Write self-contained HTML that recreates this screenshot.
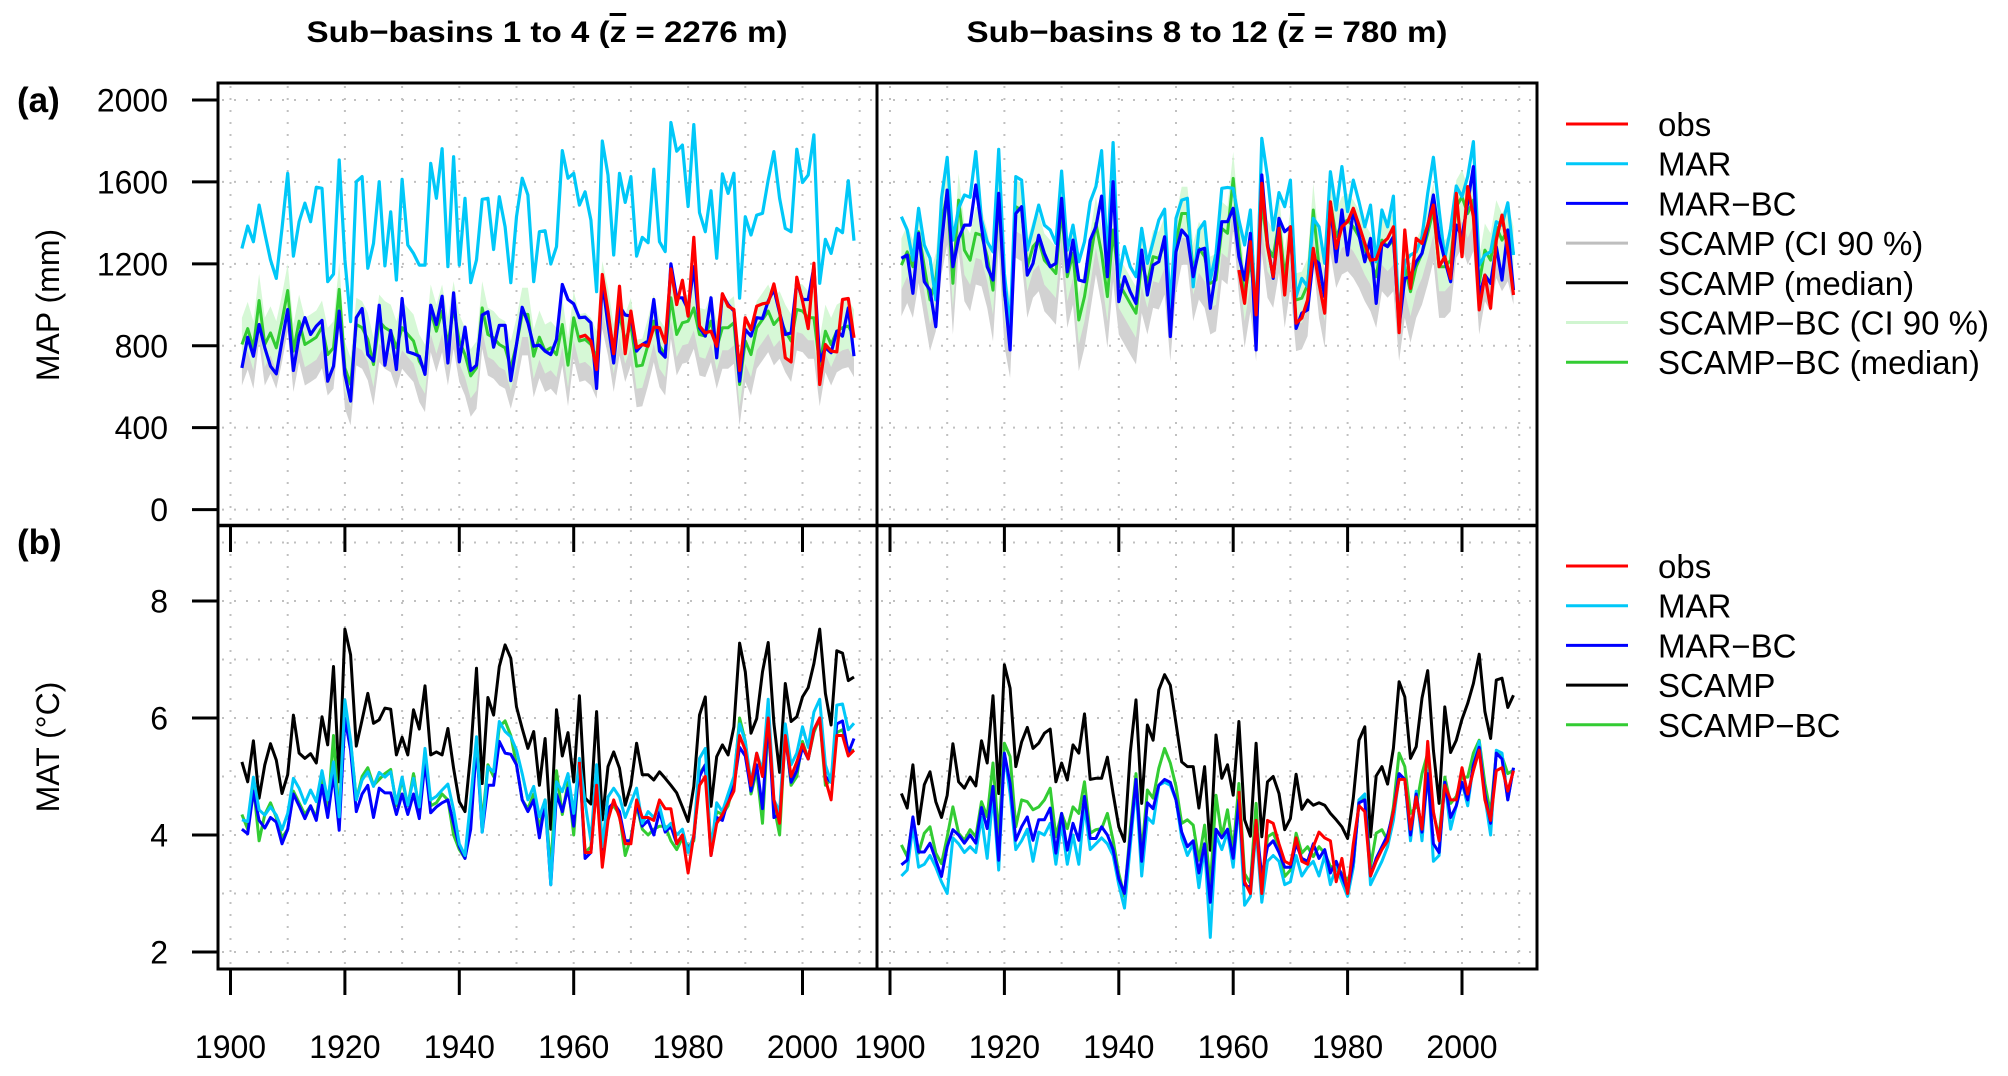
<!DOCTYPE html>
<html>
<head>
<meta charset="utf-8">
<style>
  html, body { margin: 0; padding: 0; background: #ffffff; }
  svg { display: block; font-family: "Liberation Sans", Arial, sans-serif; }
</style>
</head>
<body>
<svg id="chart" width="2008" height="1076" viewBox="0 0 2008 1076" xmlns="http://www.w3.org/2000/svg">
  <defs>
    <clipPath id="clipTL"><rect x="218" y="83" width="659" height="442"/></clipPath>
    <clipPath id="clipTR"><rect x="877" y="83" width="660" height="442"/></clipPath>
    <clipPath id="clipBL"><rect x="218" y="525" width="659" height="444"/></clipPath>
    <clipPath id="clipBR"><rect x="877" y="525" width="660" height="444"/></clipPath>
  </defs>
  <g id="grid"></g>
  <g id="series"></g>
  <g id="frame"></g>
  <g id="axes"></g>

  <text x="547" y="42" text-anchor="middle" font-size="30" font-weight="bold" textLength="481" lengthAdjust="spacingAndGlyphs">Sub−basins 1 to 4 (<tspan style="text-decoration:overline">z</tspan> = 2276 m)</text>
  <text x="1207" y="42" text-anchor="middle" font-size="30" font-weight="bold" textLength="481" lengthAdjust="spacingAndGlyphs">Sub−basins 8 to 12 (<tspan style="text-decoration:overline">z</tspan> = 780 m)</text>
  <text x="17" y="112" font-size="35" font-weight="bold">(a)</text>
  <text x="17" y="554" font-size="35" font-weight="bold">(b)</text>
  <text transform="translate(59,305) rotate(-90)" text-anchor="middle" font-size="32">MAP (mm)</text>
  <text transform="translate(59,747) rotate(-90)" text-anchor="middle" font-size="32">MAT (°C)</text>
  <g id="legends"></g>
</svg>
<script>
const years = [];
for (let y = 1902; y <= 2009; y++) years.push(y);
const obsStartYear = 1961;

const topLeftMAR = [1275,1385,1308,1487,1349,1219,1129,1373,1642,1238,
1406,1496,1406,1574,1569,1113,1150,1707,1219,918,
1601,1626,1178,1300,1601,1190,1454,1121,1613,1292,
1251,1194,1194,1691,1520,1762,1186,1723,1194,1520,
1108,1219,1515,1520,1270,1528,1381,1108,1430,1618,
1536,1113,1357,1362,1199,1284,1753,1618,1642,1487,
1552,1414,1064,1800,1634,1243,1642,1500,1626,1238,
1329,1303,1662,1308,1260,1890,1750,1780,1480,1880,
1450,1357,1557,1227,1639,1544,1642,1032,1430,1341,
1438,1447,1610,1748,1520,1373,1357,1760,1597,1634,
1830,1105,1320,1251,1373,1352,1606,1313];
const topLeftMARBC = [692,842,749,904,790,700,663,823,977,679,
847,937,855,896,924,627,700,969,660,530,
937,982,757,725,998,705,875,684,1031,770,
761,749,660,998,904,1042,716,1058,721,891,
679,705,950,966,793,900,900,630,806,988,
912,798,803,774,757,831,1099,1026,1005,937,
940,912,592,1115,904,716,993,950,945,774,
806,823,1026,774,744,1200,1034,1034,977,1186,
888,847,1034,741,1050,1001,969,627,879,847,
937,933,1018,1075,961,855,863,1115,1026,1026,
1186,725,790,766,871,847,985,749];
const topLeftObs = [842,851,823,684,1148,969,761,1091,761,969,
790,806,798,891,888,814,1175,1001,1120,945,
1329,896,863,871,798,1054,993,977,679,937,
879,993,1005,1010,1102,969,741,721,1135,1018,
884,1203,611,806,774,770,1026,1031,839];
const topLeftBC = [806,884,790,1021,806,863,790,920,1070,774,
920,806,823,842,891,757,790,1075,692,611,
904,888,831,708,920,888,871,790,888,855,
823,725,676,969,871,969,806,985,823,757,
653,692,985,855,839,806,790,692,806,953,
953,749,842,774,790,757,904,705,937,823,
831,806,741,1083,953,774,953,823,904,700,
705,806,920,798,757,1034,855,912,920,985,
855,847,920,790,888,888,912,611,823,757,
888,928,969,904,937,871,823,977,969,937,
937,705,871,806,871,888,896,847];

const topRightMAR = [1430,1365,1218,1471,1292,1227,1024,1520,1720,1316,
1471,1536,1525,1748,1414,1308,1259,1759,1153,877,
1626,1609,1267,1373,1487,1389,1365,1300,1653,1267,
1389,1210,1308,1503,1577,1753,1227,1792,1129,1284,
1186,1137,1373,1202,1308,1414,1467,991,1422,1511,
1520,1088,1365,1406,1121,1251,1569,1573,1569,1414,
1292,1463,910,1813,1626,1365,1548,1479,1609,1040,
1129,1088,1422,1381,1202,1650,1463,1675,1455,1609,
1503,1381,1487,1210,1463,1381,1531,910,1210,1243,
1259,1332,1544,1720,1463,1227,1373,1580,1528,1626,
1797,1194,1243,1259,1406,1389,1498,1243];
const topRightMARBC = [1227,1243,1056,1349,1113,1072,893,1300,1560,1186,
1324,1389,1389,1585,1381,1186,1121,1544,1072,780,
1446,1479,1145,1202,1340,1251,1186,1202,1520,1161,
1316,1121,1113,1316,1381,1531,1137,1601,1015,1137,
1064,1007,1267,1048,1194,1210,1332,845,1259,1365,
1332,1137,1267,1276,983,1170,1406,1406,1471,1235,
1121,1349,780,1634,1300,1129,1422,1357,1381,885,
959,975,1227,1202,1040,1487,1210,1463,1243,1463,
1340,1210,1324,1007,1300,1284,1332,893,1129,1137,
1210,1251,1381,1536,1332,1218,1113,1389,1332,1498,
1675,1040,1145,1105,1284,1121,1365,1072];
const topRightObs = [1170,1007,1308,951,1593,1284,1137,1373,1048,1381,
910,935,1024,1276,1105,959,1503,1276,1381,1406,
1471,1389,1300,1218,1222,1300,1324,1381,864,1365,
1080,1324,1300,1389,1487,1186,1235,1129,1544,1235,
1577,1430,975,1145,983,1316,1438,1267,1048];
const topRightBC = [1194,1259,1186,1357,1186,1024,1121,1398,1544,1105,
1511,1267,1218,1349,1340,1235,1072,1528,1048,893,
1479,1463,1186,1284,1316,1218,1186,1153,1463,1137,
1251,926,1040,1218,1398,1251,1040,1365,1105,1056,
1007,959,1210,1105,1235,1227,1300,975,1308,1446,
1446,1170,1276,1235,1105,1121,1373,1349,1617,1300,
1040,1218,975,1503,1284,1235,1406,1137,1332,1024,
1032,1097,1463,1186,1040,1503,1332,1398,1414,1381,
1332,1267,1218,1137,1316,1284,1316,975,1186,1064,
1186,1251,1349,1463,1186,1186,1218,1479,1528,1446,
1511,1105,1267,1218,1381,1316,1365,1251];

// CI band edges, as offsets from the SCAMP-BC median (mm); positive = above
const leftBCBandUp = 130, leftBCBandDown = 110, leftScampTop = -80, leftScampBottom = 200;
const rightBCBandUp = 130, rightBCBandDown = 120, rightScampTop = -100, rightScampBottom = 250;

const botLeftSCAMP = [5.25,4.91,5.61,4.63,5.20,5.56,5.28,4.71,5.03,6.05,
5.40,5.31,5.39,5.23,6.02,5.54,6.88,4.91,7.52,7.08,
5.52,5.97,6.42,5.91,5.97,6.17,6.15,5.37,5.67,5.37,
6.14,5.81,6.55,5.37,5.42,5.37,5.82,5.14,4.57,4.40,
5.40,6.85,4.88,6.35,6.05,6.88,7.25,7.02,6.19,5.82,
5.48,5.77,4.85,5.65,4.10,6.14,5.35,5.75,4.91,6.38,
4.63,4.53,6.11,4.26,5.17,5.42,5.14,4.51,4.85,5.57,
5.03,5.03,4.94,5.08,4.97,4.85,4.72,4.48,4.23,4.83,
6.05,6.36,4.49,5.34,5.54,5.37,5.85,7.28,6.79,5.74,
5.99,6.79,7.29,5.91,5.07,6.59,5.94,6.02,6.36,6.52,
6.93,7.52,6.42,5.88,7.15,7.11,6.64,6.70];
const botLeftMAR = [4.26,4.23,4.99,4.43,4.34,4.48,4.34,4.09,4.37,4.97,
4.80,4.54,4.77,4.57,5.10,4.60,5.25,4.31,6.31,5.62,
4.60,4.94,5.08,4.83,5.07,4.99,5.08,4.54,4.99,4.51,
4.97,4.48,5.48,4.60,4.66,4.77,4.87,4.43,3.85,3.65,
4.60,5.68,4.05,5.17,5.08,5.94,5.77,5.68,5.45,5.05,
4.60,4.83,4.31,4.60,3.15,4.91,4.74,5.05,4.37,5.31,
4.55,3.90,5.20,3.80,4.65,4.80,4.65,4.30,4.55,4.80,
4.20,4.40,4.30,4.50,4.10,4.20,4.00,4.10,3.70,4.00,
5.31,5.48,3.70,4.55,4.40,4.70,5.00,5.90,5.60,4.90,
5.40,5.10,6.32,4.60,4.40,5.90,5.20,5.40,5.85,5.50,
6.10,6.32,5.20,4.90,6.22,6.24,5.80,5.91];
const botLeftMARBC = [4.10,4.02,4.75,4.25,4.12,4.30,4.22,3.85,4.10,4.70,
4.50,4.28,4.50,4.25,4.85,4.30,5.05,4.08,6.00,5.45,
4.40,4.70,4.85,4.30,4.80,4.72,4.72,4.35,4.70,4.35,
4.70,4.28,5.25,4.38,4.48,4.55,4.60,4.20,3.80,3.60,
4.10,5.55,4.05,4.85,4.85,5.60,5.40,5.38,5.20,4.60,
4.40,4.60,3.95,4.55,3.15,4.70,4.40,4.80,4.15,5.25,
3.60,3.70,4.90,3.75,4.45,4.55,4.40,3.90,3.90,4.55,
4.15,4.25,4.00,4.40,4.05,4.15,3.85,4.00,3.75,3.95,
5.00,5.20,3.65,4.30,4.25,4.60,4.85,5.50,5.35,4.75,
5.20,4.45,6.00,4.30,4.35,5.70,4.90,5.10,5.50,5.30,
5.80,6.00,5.00,4.90,5.90,5.95,5.40,5.65];
const botLeftBC = [4.35,4.1,4.85,3.9,4.35,4.55,4.3,3.95,4.1,4.75,
4.55,4.35,4.5,4.3,4.95,4.35,5.7,4.3,6.0,5.6,
4.6,5.0,5.15,4.85,4.95,5.05,5.12,4.5,4.95,4.5,
5.05,4.4,5.4,4.5,4.55,4.7,4.6,4.0,3.75,3.6,
4.2,5.6,4.2,5.2,5.0,5.85,5.95,5.7,5.2,4.6,
4.45,4.7,4.1,4.6,3.4,5.1,4.35,4.9,4.0,5.25,
3.7,3.8,5.0,3.9,4.4,4.5,4.35,3.65,3.95,4.5,
4.1,4.0,4.1,4.15,4.15,3.9,3.75,3.95,3.8,3.9,
5.05,5.2,3.8,4.4,4.35,4.5,4.9,6.0,5.6,4.7,
5.1,4.2,5.9,4.5,4.0,5.75,4.85,5.0,5.6,5.3,
5.75,6.0,4.85,4.95,5.75,5.8,5.45,5.45];
const botLeftObs = [5.25,3.7,3.7,4.85,3.45,4.25,4.6,4.3,3.85,3.85,
4.6,4.3,4.3,4.25,4.6,4.45,4.45,3.85,4.0,3.35,
4.0,4.85,5.0,3.65,4.2,4.35,4.55,4.75,5.7,5.45,
4.85,5.4,5.0,6.0,4.6,4.2,5.7,5.0,5.25,5.55,
5.3,5.8,6.0,4.95,4.6,5.7,5.7,5.35,5.45];

const botRightSCAMP = [4.71,4.46,5.20,4.19,4.86,5.08,4.57,4.30,4.68,5.56,
4.91,4.80,4.99,4.84,5.61,5.23,6.38,4.71,6.91,6.51,
5.17,5.59,5.84,5.48,5.57,5.74,5.81,4.91,5.23,4.94,
5.54,5.40,6.07,4.95,4.97,4.97,5.33,4.71,4.14,3.89,
5.40,6.31,4.54,5.88,5.62,6.48,6.74,6.56,5.91,5.25,
5.17,5.17,4.46,5.17,3.74,5.71,4.97,5.20,4.68,5.94,
4.26,3.98,5.57,3.97,4.91,5.00,4.71,4.09,4.28,5.04,
4.44,4.60,4.51,4.55,4.51,4.37,4.26,4.14,3.94,4.63,
5.62,5.85,3.97,5.01,5.17,4.87,5.48,6.62,6.36,5.31,
5.51,6.34,6.81,5.45,4.54,6.19,5.41,5.62,5.98,6.25,
6.59,7.09,6.11,5.65,6.65,6.68,6.18,6.39];
const botRightMAR = [3.3,3.4,4.15,3.45,3.5,3.65,3.45,3.2,3.0,3.95,
3.85,3.7,3.8,3.7,4.3,3.6,4.7,3.4,5.4,4.7,
3.75,3.9,4.1,3.55,4.05,4.0,4.2,3.5,4.2,3.5,
4.0,3.5,4.5,3.75,3.85,3.95,3.85,3.65,3.15,2.75,
3.8,4.85,3.3,4.3,4.2,4.85,4.9,4.85,4.6,3.95,
3.65,3.85,3.1,3.8,2.25,4.0,3.75,4.05,3.45,4.55,
2.8,2.95,4.1,2.85,3.55,3.65,3.55,3.15,3.2,3.65,
3.3,3.45,3.55,3.3,3.65,3.15,3.45,3.2,2.95,3.45,
4.6,4.7,3.15,3.35,3.55,3.8,4.25,5.0,4.95,3.9,
4.75,3.9,5.1,3.55,3.65,4.9,4.1,4.5,4.9,4.5,
5.2,5.6,4.65,4.0,5.45,5.4,4.6,5.15];
const botRightMARBC = [3.49,3.57,4.31,3.71,3.71,3.86,3.57,3.29,3.80,4.09,
4.00,3.86,4.00,3.86,4.47,4.11,4.83,3.57,5.40,4.88,
3.91,4.14,4.31,3.91,4.26,4.26,4.46,3.69,4.37,3.74,
4.20,3.91,4.66,3.94,3.94,4.14,4.00,3.75,3.25,3.00,
3.95,4.95,3.55,4.55,4.45,4.85,4.95,4.90,4.60,4.05,
3.80,3.90,3.35,3.85,2.85,4.10,3.95,4.10,3.60,4.60,
3.15,3.10,4.20,3.30,3.80,3.90,3.70,3.45,3.45,3.85,
3.60,3.55,3.85,3.60,3.75,3.35,3.55,3.30,3.05,3.55,
4.55,4.60,3.30,3.60,3.80,4.00,4.40,5.05,4.95,4.00,
4.70,4.05,5.05,3.85,3.70,4.90,4.30,4.50,4.90,4.60,
5.20,5.50,4.70,4.20,5.40,5.30,4.60,5.15];
const botRightBC = [3.83,3.63,4.26,3.69,4.03,4.14,3.69,3.51,3.97,4.48,
4.03,3.91,4.09,3.97,4.57,4.31,5.23,3.97,5.57,5.34,
4.14,4.60,4.57,4.43,4.48,4.60,4.80,3.97,4.37,4.11,
4.48,4.37,4.91,4.03,4.09,4.11,4.37,3.91,3.34,2.95,
4.09,5.05,3.69,4.77,4.63,5.14,5.48,5.23,4.83,4.20,
4.26,4.17,3.57,4.17,3.12,4.68,3.97,4.43,3.74,4.88,
3.34,3.17,4.54,2.95,3.97,4.03,3.80,3.29,3.40,4.03,
3.69,3.80,3.63,3.80,3.69,3.46,3.46,3.34,3.23,3.46,
4.60,4.66,3.46,4.03,4.09,3.91,4.48,5.40,5.17,4.37,
4.48,5.05,5.40,4.37,3.97,4.99,4.54,4.66,4.99,4.99,
5.40,5.62,4.88,4.37,5.40,5.34,5.05,5.11];
const botRightObs = [4.75,3.2,3.0,4.25,3.0,4.25,4.2,3.85,3.55,3.5,
3.95,3.55,3.5,3.8,4.05,3.95,3.9,3.2,3.6,3.0,
3.85,4.5,4.4,3.3,3.55,3.75,3.9,4.4,4.95,4.95,
4.1,4.65,4.1,5.6,4.4,3.9,4.85,4.6,4.6,5.15,
4.7,5.1,5.45,4.6,4.25,5.1,5.15,4.75,5.1];

const xTickYears = [1900,1920,1940,1960,1980,2000];
const mapTicks = [0,400,800,1200,1600,2000];
const matTicks = [2,4,6,8];
const legendTop = ["obs","MAR","MAR−BC","SCAMP (CI 90 %)","SCAMP (median)","SCAMP−BC (CI 90 %)","SCAMP−BC (median)"];
const legendBottom = ["obs","MAR","MAR−BC","SCAMP","SCAMP−BC"];

const C = { obs:"#ff0000", mar:"#00c8f8", marbc:"#0000ff", scampci:"#d2d2d2", scamp:"#000000", bcci:"#d6f8d6", bc:"#33cc33" };
const legendTopColors = [C.obs, C.mar, C.marbc, "#bebebe", C.scamp, "#d0f5d0", C.bc];
const legendBottomColors = [C.obs, C.mar, C.marbc, C.scamp, C.bc];

const NS = "http://www.w3.org/2000/svg";
function mk(tag, attrs, parent) {
  const e = document.createElementNS(NS, tag);
  for (const k in attrs) e.setAttribute(k, attrs[k]);
  parent.appendChild(e);
  return e;
}
const panelX0 = { L: 230.5, R: 890 };
function xScale(side, yr) { return panelX0[side] + (yr - 1900) * 5.72; }
function yTop(v) { return 509.6 - v * 0.2048; }
function yBot(t) { return 601 + (8 - t) * 58.5; }

const gGrid = document.getElementById("grid");
const gSeries = document.getElementById("series");
const gFrame = document.getElementById("frame");
const gAxes = document.getElementById("axes");
const gLeg = document.getElementById("legends");

["L","R"].forEach(side => {
  for (let yr = 1900; yr <= 2010; yr += 10) {
    const x = xScale(side, yr);
    const l = mk("line", {x1:x, y1:86, x2:x, y2:966, stroke:"#c0c0c0", "stroke-width":2, "stroke-dasharray":"2 10"}, gGrid);
    
    
  }
  const x0 = side === "L" ? 218 : 877, x1 = side === "L" ? 877 : 1537;
  mapTicks.forEach(v => {
    const l = mk("line", {x1:x0+4, y1:yTop(v), x2:x1-4, y2:yTop(v), stroke:"#c0c0c0", "stroke-width":2, "stroke-dasharray":"2 10"}, gGrid);
    
    
  });
  for (let t = 2; t <= 9; t++) {
    const l = mk("line", {x1:x0+4, y1:yBot(t), x2:x1-4, y2:yBot(t), stroke:"#c0c0c0", "stroke-width":2, "stroke-dasharray":"2 10"}, gGrid);
    
    
  }
});

function linePath(side, yfn, vals, startYear) {
  let d = "";
  vals.forEach((v, i) => {
    d += (i ? "L" : "M") + xScale(side, startYear + i).toFixed(1) + "," + yfn(v).toFixed(1);
  });
  return d;
}
function bandPath(side, yfn, med, up, down) {
  let d = "";
  med.forEach((v, i) => { d += (i ? "L" : "M") + xScale(side, years[i]).toFixed(1) + "," + yfn(v + up).toFixed(1); });
  for (let i = med.length - 1; i >= 0; i--) d += "L" + xScale(side, years[i]).toFixed(1) + "," + yfn(med[i] - down).toFixed(1);
  return d + "Z";
}
function group(clip, name) {
  const g = mk("g", {"clip-path":"url(#" + clip + ")"}, gSeries);
  
  
  return g;
}
function addLine(g, side, yfn, vals, start, color, w, name) {
  const p = mk("path", {d:linePath(side, yfn, vals, start), fill:"none", stroke:color, "stroke-width":w, "stroke-linejoin":"round"}, g);
  
  
}
function addBand(g, side, yfn, med, up, down, color, name) {
  const p = mk("path", {d:bandPath(side, yfn, med, up, down), fill:color, stroke:"none"}, g);
  
  
}

let g = group("clipTL", "map-panel-left");
addBand(g, "L", yTop, topLeftBC, leftScampTop, leftScampBottom, C.scampci, "scamp-ci-band");
addBand(g, "L", yTop, topLeftBC, leftBCBandUp, leftBCBandDown, C.bcci, "scamp-bc-ci-band");
addLine(g, "L", yTop, topLeftBC, 1902, C.bc, 3, "scamp-bc-median-line");
addLine(g, "L", yTop, topLeftMAR, 1902, C.mar, 3.2, "mar-line");
addLine(g, "L", yTop, topLeftMARBC, 1902, C.marbc, 3.2, "mar-bc-line");
addLine(g, "L", yTop, topLeftObs, obsStartYear, C.obs, 3.2, "obs-line");

g = group("clipTR", "map-panel-right");
addBand(g, "R", yTop, topRightBC, rightScampTop, rightScampBottom, C.scampci, "scamp-ci-band");
addBand(g, "R", yTop, topRightBC, rightBCBandUp, rightBCBandDown, C.bcci, "scamp-bc-ci-band");
addLine(g, "R", yTop, topRightBC, 1902, C.bc, 3, "scamp-bc-median-line");
addLine(g, "R", yTop, topRightMAR, 1902, C.mar, 3.2, "mar-line");
addLine(g, "R", yTop, topRightMARBC, 1902, C.marbc, 3.2, "mar-bc-line");
addLine(g, "R", yTop, topRightObs, obsStartYear, C.obs, 3.2, "obs-line");

g = group("clipBL", "mat-panel-left");
addLine(g, "L", yBot, botLeftSCAMP, 1902, C.scamp, 3, "scamp-line");
addLine(g, "L", yBot, botLeftBC, 1902, C.bc, 3, "scamp-bc-line");
addLine(g, "L", yBot, botLeftMARBC, 1902, C.marbc, 3, "mar-bc-line");
addLine(g, "L", yBot, botLeftMAR, 1902, C.mar, 3, "mar-line");
addLine(g, "L", yBot, botLeftObs, obsStartYear, C.obs, 3, "obs-line");

g = group("clipBR", "mat-panel-right");
addLine(g, "R", yBot, botRightSCAMP, 1902, C.scamp, 3, "scamp-line");
addLine(g, "R", yBot, botRightBC, 1902, C.bc, 3, "scamp-bc-line");
addLine(g, "R", yBot, botRightMAR, 1902, C.mar, 3, "mar-line");
addLine(g, "R", yBot, botRightMARBC, 1902, C.marbc, 3, "mar-bc-line");
addLine(g, "R", yBot, botRightObs, obsStartYear, C.obs, 3, "obs-line");

const f = mk("rect", {x:218, y:83, width:1319, height:886, fill:"none", stroke:"#000", "stroke-width":3}, gFrame);


let dv = mk("line", {x1:877, y1:83, x2:877, y2:969, stroke:"#000", "stroke-width":3}, gFrame);


dv = mk("line", {x1:218, y1:525.5, x2:1537, y2:525.5, stroke:"#000", "stroke-width":3.5}, gFrame);



mapTicks.forEach(v => {
  const t = mk("line", {x1:192, y1:yTop(v), x2:218, y2:yTop(v), stroke:"#000", "stroke-width":3}, gAxes);
  
  
  const l = mk("text", {x:168, y:yTop(v) + 11.5, "text-anchor":"end", "font-size":32}, gAxes);
  l.textContent = String(v);
  
  
});
matTicks.forEach(v => {
  const t = mk("line", {x1:192, y1:yBot(v), x2:218, y2:yBot(v), stroke:"#000", "stroke-width":3}, gAxes);
  
  
  const l = mk("text", {x:168, y:yBot(v) + 11.5, "text-anchor":"end", "font-size":32}, gAxes);
  l.textContent = String(v);
  
  
});
["L","R"].forEach(side => {
  xTickYears.forEach(yr => {
    const x = xScale(side, yr);
    const t = mk("line", {x1:x, y1:969, x2:x, y2:995, stroke:"#000", "stroke-width":3}, gAxes);
    
    
    const t2 = mk("line", {x1:x, y1:527, x2:x, y2:552, stroke:"#000", "stroke-width":3}, gAxes);
    
    
    const l = mk("text", {x:x, y:1058, "text-anchor":"middle", "font-size":32}, gAxes);
    l.textContent = String(yr);
    
    
  });
});

function legend(labels, colors, y0) {
  labels.forEach((lab, i) => {
    const y = y0 + i * 39.7;
    const ln = mk("line", {x1:1566, y1:y, x2:1628, y2:y, stroke:colors[i], "stroke-width":3}, gLeg);
    
    
    const t = mk("text", {x:1658, y:y + 12, "font-size":33}, gLeg);
    t.textContent = lab;
    
    
  });
}
legend(legendTop, legendTopColors, 124);
legend(legendBottom, legendBottomColors, 566);
</script>
</body>
</html>
